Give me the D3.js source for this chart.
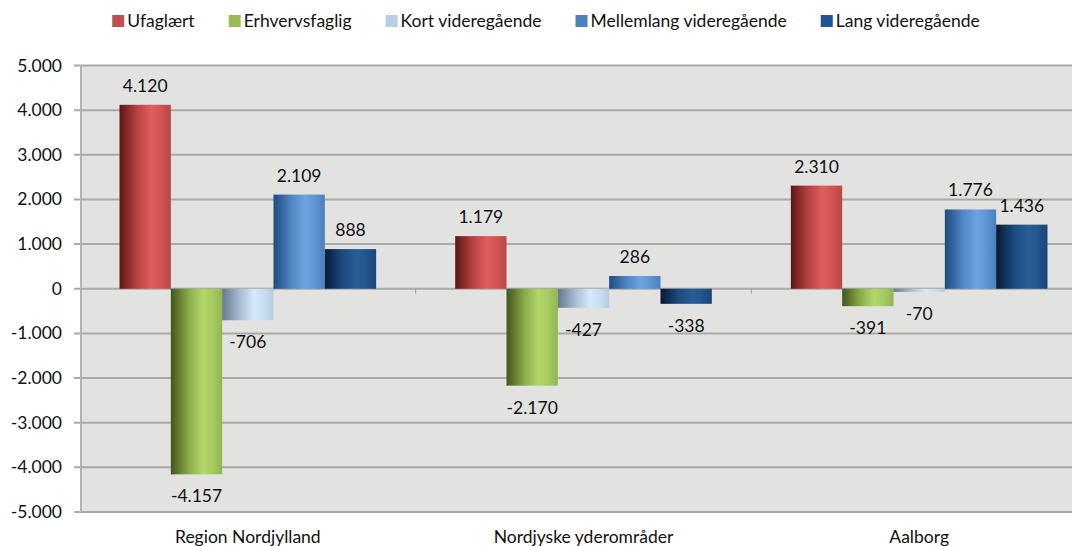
<!DOCTYPE html>
<html>
<head>
<meta charset="utf-8">
<script src="https://cdn.jsdelivr.net/npm/d3@7"></script>
<style>
  body { margin: 0; background: #fff; }
  text { font-family: Lato, 'Open Sans', sans-serif; fill: #111; }
</style>
</head>
<body>
<div id="chart"></div>
<script>
const categories = ['Region Nordjylland', 'Nordjyske yderområder', 'Aalborg']
const seriesNames = [
  'Ufaglært',
  'Erhvervsfaglig',
  'Kort videregående',
  'Mellemlang videregående',
  'Lang videregående',
]
const ufaglaert = [4120, 1179, 2310]
const erhvervsfaglig = [-4157, -2170, -391]
const kortVideregaaende = [-706, -427, -70]
const mellemlangVideregaaende = [2109, 286, 1776]
const langVideregaaende = [888, -338, 1436]
const yTicks = [-5000, -4000, -3000, -2000, -1000, 0, 1000, 2000, 3000, 4000, 5000]

const seriesValues = [
  ufaglaert,
  erhvervsfaglig,
  kortVideregaaende,
  mellemlangVideregaaende,
  langVideregaaende,
]

// cylinder-ish shading, one gradient per series
const seriesShades = [
  ['#5e1514', '#b84443', '#e05e5d', '#d45453', '#b84746'],
  ['#44561c', '#8aab48', '#b3d66a', '#a9cc62', '#93b552'],
  ['#6a7788', '#a9bdd6', '#d6e8fa', '#cbdff3', '#b6cae3'],
  ['#1f4b80', '#4f86c6', '#6ea3de', '#5e95d3', '#4b7fbd'],
  ['#081a33', '#1d4a80', '#2a5d98', '#23558e', '#1a4578'],
]
const legendColors = ['#c0504d', '#9bbb59', '#b9cde5', '#4f81bd', '#1f568f']

const width = 1072
const height = 546
const plotLeft = 80
const plotRight = 1087
const plotTop = 65.5
const plotBottom = 512
const fontSize = '17.5px'

const locale = d3.formatLocale({
  decimal: ',',
  thousands: '.',
  grouping: [3],
  currency: ['', ''],
  minus: '-',
})
const fmt = locale.format(',d')

const svg = d3
  .select('#chart')
  .append('svg')
  .attr('width', width)
  .attr('height', height)

const defs = svg.append('defs')
seriesShades.forEach((shades, i) => {
  const grad = defs
    .append('linearGradient')
    .attr('id', `shade-${i}`)
    .attr('x1', '0%')
    .attr('x2', '100%')
    .attr('y1', '0%')
    .attr('y2', '0%')
  const stops = [0, 0.35, 0.62, 0.8, 1]
  shades.forEach((c, j) => {
    grad.append('stop').attr('offset', stops[j]).attr('stop-color', c)
  })
})

const x0 = d3.scaleBand().domain(categories).range([plotLeft, plotRight])
const x1 = d3
  .scaleBand()
  .domain(seriesNames)
  .range([0, x0.bandwidth()])
  .paddingInner(0)
  .paddingOuter(0.77)
const y = d3.scaleLinear().domain([-5000, 5000]).range([plotBottom, plotTop])

// back wall
svg
  .append('rect')
  .attr('x', plotLeft)
  .attr('y', plotTop)
  .attr('width', width - plotLeft)
  .attr('height', plotBottom - plotTop)
  .attr('fill', '#e2e2e1')

// gridlines
svg
  .append('g')
  .attr('class', 'grid')
  .selectAll('line')
  .data(yTicks)
  .join('line')
  .attr('x1', plotLeft - 6)
  .attr('x2', width)
  .attr('y1', d => y(d))
  .attr('y2', d => y(d))
  .attr('stroke', '#a9a9a9')
  .attr('stroke-width', 2)

// left wall edge
svg
  .append('line')
  .attr('x1', plotLeft + 1)
  .attr('x2', plotLeft + 1)
  .attr('y1', plotTop)
  .attr('y2', plotBottom)
  .attr('stroke', '#b3b3b3')
  .attr('stroke-width', 2)

// y axis labels
svg
  .append('g')
  .attr('class', 'y-labels')
  .selectAll('text')
  .data(yTicks)
  .join('text')
  .attr('x', 62)
  .attr('y', d => y(d) + 6)
  .attr('text-anchor', 'end')
  .style('font-size', fontSize)
  .text(d => fmt(d))

// category tick marks at the zero line
svg
  .append('g')
  .selectAll('line')
  .data(categories.slice(1))
  .join('line')
  .attr('x1', d => x0(d))
  .attr('x2', d => x0(d))
  .attr('y1', y(0))
  .attr('y2', y(0) + 5)
  .attr('stroke', '#9a9a9a')
  .attr('stroke-width', 1)

const barData = categories.flatMap((cat, ci) =>
  seriesNames.map((s, si) => ({
    cat,
    series: s,
    si,
    value: seriesValues[si][ci],
  })),
)

svg
  .append('g')
  .attr('class', 'bars')
  .selectAll('rect')
  .data(barData)
  .join('rect')
  .attr('x', d => x0(d.cat) + x1(d.series))
  .attr('width', x1.bandwidth())
  .attr('y', d => y(Math.max(0, d.value)))
  .attr('height', d => Math.abs(y(d.value) - y(0)))
  .attr('fill', d => `url(#shade-${d.si})`)

// data labels
svg
  .append('g')
  .attr('class', 'labels')
  .selectAll('text')
  .data(barData)
  .join('text')
  .attr('x', d => x0(d.cat) + x1(d.series) + x1.bandwidth() / 2)
  .attr('y', d => (d.value >= 0 ? y(d.value) - 13 : y(d.value) + 28))
  .attr('text-anchor', 'middle')
  .style('font-size', fontSize)
  .text(d => fmt(d.value))

// category labels
svg
  .append('g')
  .attr('class', 'x-labels')
  .selectAll('text')
  .data(categories)
  .join('text')
  .attr('x', d => x0(d) + x0.bandwidth() / 2)
  .attr('y', 543)
  .attr('text-anchor', 'middle')
  .style('font-size', fontSize)
  .text(d => d)

// legend
const legend = svg.append('g').attr('class', 'legend')
const items = legend
  .selectAll('g')
  .data(seriesNames)
  .join('g')
items
  .append('rect')
  .attr('width', 12)
  .attr('height', 12)
  .attr('y', 15)
  .attr('fill', (d, i) => legendColors[i])
items
  .append('text')
  .attr('x', 15)
  .attr('y', 27)
  .style('font-size', fontSize)
  .text(d => d)

let cursor = 0
items.each(function () {
  const w = d3.select(this).select('text').node().getComputedTextLength() + 15
  d3.select(this).attr('transform', `translate(${cursor},0)`)
  cursor += w + 34
})
const legendWidth = cursor - 34
legend.attr('transform', `translate(${546 - legendWidth / 2},0)`)
</script>
</body>
</html>
